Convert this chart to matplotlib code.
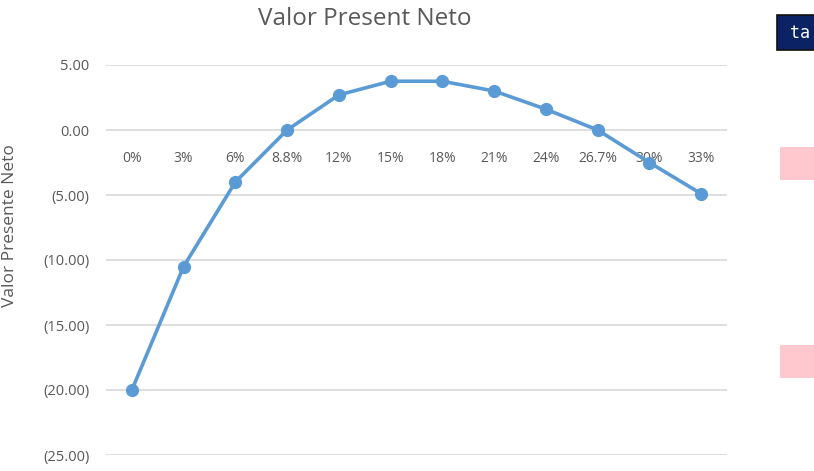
import matplotlib
matplotlib.use("Agg")
import matplotlib.pyplot as plt
from matplotlib.patches import Rectangle
from matplotlib.ticker import FuncFormatter

# datos: tasa de descuento vs VPN
tasas = ["0%", "3%", "6%", "8.8%", "12%", "15%", "18%", "21%", "24%", "26.7%", "30%", "33%"]
vpn = [-20.0, -10.5, -4.0, 0.0, 2.7, 3.75, 3.75, 3.0, 1.6, 0.0, -2.5, -4.9]
y_ticks = [5, 0, -5, -10, -15, -20, -25]

plt.rcParams["font.family"] = ["Open Sans", "DejaVu Sans"]
gris = "#595959"

fig = plt.figure(figsize=(8.14, 4.71), dpi=100)
ax = fig.add_axes([106 / 814, 16 / 471, 621 / 814, 390 / 471])

x = list(range(len(tasas)))
ax.plot(x, vpn, color="#5B9BD5", lw=2.6, marker="o", ms=8.5, zorder=3)

ax.set_xlim(-0.5, len(tasas) - 0.5)
ax.set_ylim(-25, 5)
ax.set_yticks(y_ticks)


def fmt(v, pos):
    if v < 0:
        return "({:.2f})".format(-v)
    return "{:.2f}".format(v)


ax.yaxis.set_major_formatter(FuncFormatter(fmt))
ax.grid(axis="y", color="#D9D9D9", lw=1.2)
ax.set_axisbelow(True)

# etiquetas de categoria pegadas al eje en y=0
ax.spines["bottom"].set_position(("data", 0))
for s in ["top", "right", "left", "bottom"]:
    ax.spines[s].set_visible(False)
ax.set_xticks(x)
ax.set_xticklabels(tasas)
ax.tick_params(axis="x", length=0, pad=15, labelsize=10, labelcolor=gris)
ax.tick_params(axis="y", length=0, pad=12, labelsize=10.5, labelcolor=gris)

fig.text(365 / 814, 1 - 19 / 471, "Valor Present Neto", ha="center", va="center",
         fontsize=17.5, color=gris)
fig.text(10 / 814, 1 - 226 / 471, "Valor Presente Neto", rotation=90, ha="center",
         va="center", fontsize=12.5, color=gris)

# recortes de la hoja a la derecha
fig.patches.append(Rectangle((777 / 814, 1 - 50 / 471), 40 / 814, 35 / 471,
                             transform=fig.transFigure, facecolor="#0B2265",
                             edgecolor="#111111", lw=1.2))
fig.text(790 / 814, 1 - 33 / 471, "ta", color="white", fontsize=12,
         family="DejaVu Sans Mono", va="center", ha="left")
for y0 in [147, 345]:
    fig.patches.append(Rectangle((780 / 814, 1 - (y0 + 33) / 471), 40 / 814, 33 / 471,
                                 transform=fig.transFigure, facecolor="#FFC7CE",
                                 edgecolor="none"))

fig.savefig("out.png", dpi=100)
